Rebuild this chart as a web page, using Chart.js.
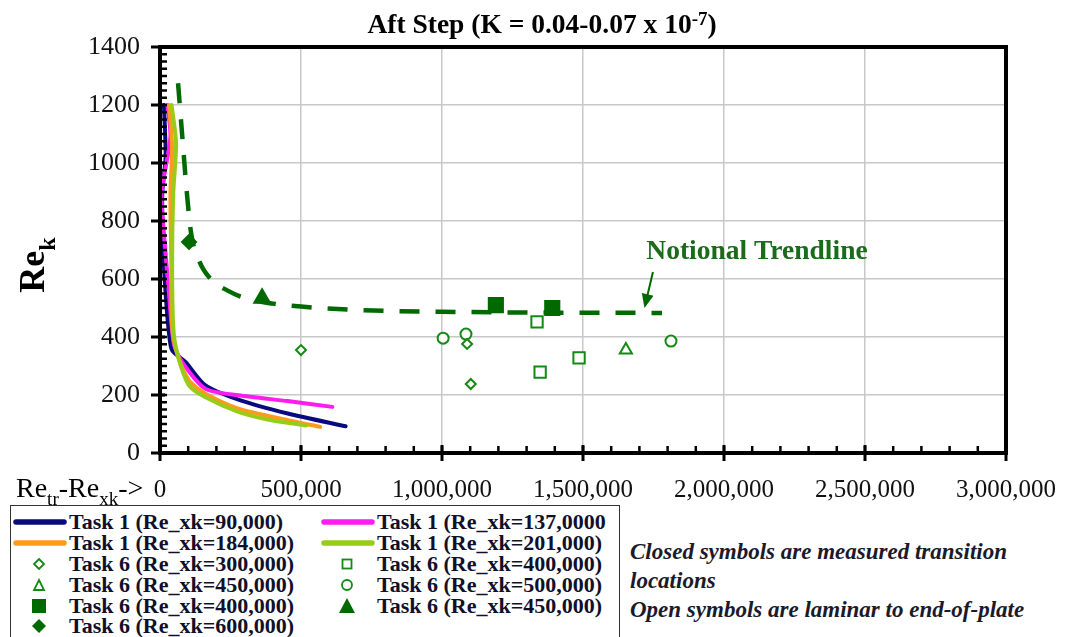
<!DOCTYPE html>
<html>
<head>
<meta charset="utf-8">
<script src="https://cdn.jsdelivr.net/npm/chart.js@4.4.1/dist/chart.umd.min.js"></script>
<style>
  body { margin: 0; background: #fff; font-family: "Liberation Serif", "DejaVu Serif", "Liberation Sans", serif; }
  #wrap { position: absolute; left: 0; top: 0; width: 1068px; height: 505px; }
  #legend {
    position: absolute; left: 10px; top: 505px; width: 610px; height: 140px;
    border: 1.5px solid #333; box-sizing: border-box; padding-top: 6px;
    display: grid; grid-template-columns: 308px 300px; grid-auto-rows: 20.8px;
  }
  .item { display: flex; align-items: center; font-weight: bold; font-size: 22px; color: #10102a; white-space: nowrap; }
  .item svg { width: 56px; height: 20px; flex: none; margin-right: 2px; }
  #note {
    position: absolute; left: 630px; top: 537px; font-size: 23px; line-height: 29px;
    font-weight: bold; font-style: italic; color: #1a1a2a;
  }
</style>
</head>
<body>
<div id="wrap"><canvas id="myChart"></canvas></div>
<div id="legend"></div>
<div id="note">Closed symbols are measured transition<br>locations<br>Open symbols are laminar to end-of-plate</div>
<script>
// Task 1 curves, [Re_tr-Re_xk, Re_k]
const task1Re90k = [[14000,1200],[20000,1022],[8000,895],[11000,711],[20000,550],[32000,412],[43000,354],[90000,314],[160000,234],[278000,184],[453000,136],[658000,92]];
const task1Re137k = [[26000,1200],[37000,1091],[6000,895],[14000,757],[32000,550],[49000,377],[78000,314],[160000,222],[278000,199],[453000,179],[611000,159]];
const task1Re184k = [[32000,1200],[43000,1056],[37000,895],[40000,665],[43000,435],[61000,343],[102000,251],[160000,205],[278000,153],[453000,113],[568000,90]];
const task1Re201k = [[41000,1200],[57000,1068],[47000,895],[43000,665],[47000,435],[61000,343],[102000,234],[160000,193],[278000,142],[395000,113],[518000,95]];

// Task 6 symbols
const open300k = [[500000,355],[1089000,376],[1102000,238]];
const open400k = [[1337000,452],[1348000,279],[1486000,328]];
const open450k = [[1652000,355]];
const open500k = [[1004000,396],[1085000,410],[1812000,386]];
const closed400k = [[1191000,510],[1391000,500]];
const closed450k = [[362000,534]];
const closed600k = [[103000,728]];

// notional trendline
const trendline = [[64000,1275],[80000,1080],[95000,900],[110000,760],[140000,660],[180000,600],[240000,560],[300000,535],[400000,515],[500000,505],[700000,493],[1000000,487],[1400000,484],[1780000,483]];

const xTicks = [0, 500000, 1000000, 1500000, 2000000, 2500000, 3000000];
const yTicks = [0, 200, 400, 600, 800, 1000, 1200, 1400];
const xMinorStep = 100000;
const yMinorStep = 25;

const trendLabel = { text: "Notional Trendline", x: 2117000, y: 693 };
const trendArrow = { from: [1748000, 624], to: [1718000, 500] };

const GREEN = "#138a13";
const DARK_GREEN = "#006a00";
const SERIF = '"Liberation Serif", "DejaVu Serif", "Liberation Sans", serif';

function pts(list) {
  return list.map(p => ({ x: p[0], y: p[1] }));
}

function lineSet(label, data, color, order) {
  return { type: "line", label, data: pts(data), borderColor: color, borderWidth: 4,
    pointRadius: 0, tension: 0.25, order, borderCapStyle: "round", borderJoinStyle: "round" };
}

function symbolSet(label, data, style, radius, filled) {
  return { label, data: pts(data), pointStyle: style, pointRadius: radius,
    pointBorderWidth: 2, borderColor: filled ? DARK_GREEN : GREEN,
    backgroundColor: filled ? DARK_GREEN : "#fff", order: 0 };
}

const datasets = [
  lineSet("Task 1 (Re_xk=90,000)", task1Re90k, "#0a0a80", 4),
  lineSet("Task 1 (Re_xk=137,0000", task1Re137k, "#ff1cf0", 3),
  lineSet("Task 1 (Re_xk=184,000)", task1Re184k, "#ff9a1c", 2),
  lineSet("Task 1 (Re_xk=201,000)", task1Re201k, "#98cc1a", 1),
  symbolSet("Task 6 (Re_xk=300,000)", open300k, "rectRot", 5, false),
  symbolSet("Task 6 (Re_xk=400,000)", open400k, "rect", 8, false),
  symbolSet("Task 6 (Re_xk=450,000)", open450k, "triangle", 7, false),
  symbolSet("Task 6 (Re_xk=500,000)", open500k, "circle", 5.5, false),
  symbolSet("Task 6 (Re_xk=400,000)", closed400k, "rect", 10, true),
  symbolSet("Task 6 (Re_xk=450,000)", closed450k, "triangle", 9, true),
  symbolSet("Task 6 (Re_xk=600,000)", closed600k, "rectRot", 7, true),
  { type: "line", label: "Notional Trendline", data: pts(trendline), borderColor: DARK_GREEN,
    borderWidth: 4.5, borderDash: [20, 16], pointRadius: 0, cubicInterpolationMode: "monotone", order: 5 },
];

// writes text with sub/superscript parts: [[text, shift], ...]; shift 0 normal, 1 sub, -1 sup
function richText(ctx, parts, x, y, size, weight, align) {
  const fontFor = s => `${weight} ${s === 0 ? size : Math.round(size * 0.68)}px ${SERIF}`;
  let total = 0;
  for (const [t, s] of parts) { ctx.font = fontFor(s); total += ctx.measureText(t).width; }
  let cx = align === "center" ? x - total / 2 : x;
  ctx.textBaseline = "alphabetic";
  ctx.textAlign = "left";
  for (const [t, s] of parts) {
    ctx.font = fontFor(s);
    ctx.fillText(t, cx, y + s * size * 0.3);
    cx += ctx.measureText(t).width;
  }
}

const framePlugin = {
  id: "frame",
  afterDraw(chart) {
    const ctx = chart.ctx;
    const a = chart.chartArea;
    const xs = chart.scales.x, ys = chart.scales.y;
    ctx.save();
    ctx.strokeStyle = "#000";
    // box round plot
    ctx.lineWidth = 4;
    ctx.strokeRect(a.left, a.top, a.right - a.left, a.bottom - a.top);
    // minor ticks (inside)
    ctx.lineWidth = 2.5;
    ctx.beginPath();
    for (let v = xMinorStep; v < 3000000; v += xMinorStep) {
      const px = xs.getPixelForValue(v);
      ctx.moveTo(px, a.bottom); ctx.lineTo(px, a.bottom - 7);
    }
    for (let v = yMinorStep; v < 1400; v += yMinorStep) {
      const py = ys.getPixelForValue(v);
      ctx.moveTo(a.left, py); ctx.lineTo(a.left + 7, py);
    }
    ctx.stroke();
    // major ticks (cross)
    ctx.lineWidth = 3;
    ctx.beginPath();
    for (const v of xTicks) {
      const px = xs.getPixelForValue(v);
      ctx.moveTo(px, a.bottom - 8); ctx.lineTo(px, a.bottom + 8);
    }
    for (const v of yTicks) {
      const py = ys.getPixelForValue(v);
      ctx.moveTo(a.left - 9, py); ctx.lineTo(a.left + 5, py);
    }
    ctx.stroke();

    // notional trendline label + arrow
    ctx.fillStyle = "#1b6b1b";
    ctx.font = `bold 27.5px ${SERIF}`;
    ctx.textAlign = "center";
    ctx.textBaseline = "middle";
    ctx.fillText(trendLabel.text, xs.getPixelForValue(trendLabel.x), ys.getPixelForValue(trendLabel.y));
    const x1 = xs.getPixelForValue(trendArrow.from[0]), y1 = ys.getPixelForValue(trendArrow.from[1]);
    const x2 = xs.getPixelForValue(trendArrow.to[0]), y2 = ys.getPixelForValue(trendArrow.to[1]);
    const ang = Math.atan2(y2 - y1, x2 - x1);
    ctx.strokeStyle = DARK_GREEN;
    ctx.lineWidth = 2;
    ctx.beginPath();
    ctx.moveTo(x1, y1);
    ctx.lineTo(x2 - 10 * Math.cos(ang), y2 - 10 * Math.sin(ang));
    ctx.stroke();
    ctx.fillStyle = DARK_GREEN;
    ctx.beginPath();
    ctx.moveTo(x2, y2);
    ctx.lineTo(x2 - 14 * Math.cos(ang) + 6 * Math.sin(ang), y2 - 14 * Math.sin(ang) - 6 * Math.cos(ang));
    ctx.lineTo(x2 - 14 * Math.cos(ang) - 6 * Math.sin(ang), y2 - 14 * Math.sin(ang) + 6 * Math.cos(ang));
    ctx.closePath();
    ctx.fill();

    // title
    ctx.fillStyle = "#000";
    richText(ctx, [["Aft Step (K = 0.04-0.07 x 10", 0], ["-7", -1], [")", 0]], 542, 33, 27.5, "bold", "center");
    // x axis title
    richText(ctx, [["Re", 0], ["tr", 1], ["-Re", 0], ["xk", 1], ["->", 0]], 16, 497, 28, "normal", "left");
    // y axis title
    ctx.translate(44, 265);
    ctx.rotate(-Math.PI / 2);
    richText(ctx, [["Re", 0], ["k", 1]], 0, 0, 36, "bold", "center");
    ctx.restore();
  }
};

const ctx = document.getElementById("myChart");
new Chart(ctx, {
  type: "scatter",
  data: { datasets },
  plugins: [framePlugin],
  options: {
    responsive: true,
    maintainAspectRatio: false,
    animation: false,
    layout: { padding: { top: 47, right: 62, left: 0, bottom: 0 } },
    plugins: { legend: { display: false }, tooltip: { enabled: false } },
    scales: {
      x: {
        type: "linear", min: 0, max: 3000000,
        afterFit: s => { s.height = 52; s.paddingLeft = 0; s.paddingRight = 0; },
        afterBuildTicks: s => { s.ticks = xTicks.map(v => ({ value: v })); },
        grid: { color: "#c8c8c8", lineWidth: 1.5, drawTicks: false },
        border: { display: false },
        ticks: { padding: 22, color: "#111", font: { family: SERIF, size: 25 },
          maxRotation: 0, callback: v => v.toLocaleString("en-US") },
      },
      y: {
        type: "linear", min: 0, max: 1400,
        afterFit: s => { s.width = 160; s.paddingTop = 0; s.paddingBottom = 0; },
        afterBuildTicks: s => { s.ticks = yTicks.map(v => ({ value: v })); },
        grid: { color: "#c8c8c8", lineWidth: 1.5, drawTicks: false },
        border: { display: false },
        ticks: { padding: 20, color: "#111", font: { family: SERIF, size: 26 }, callback: v => String(v) },
      },
    },
  },
});

// html legend
const legendItems = [
  ["line", "#0a0a80", "Task 1 (Re_xk=90,000)"],
  ["line", "#ff1cf0", "Task 1 (Re_xk=137,0000"],
  ["line", "#ff9a1c", "Task 1 (Re_xk=184,000)"],
  ["line", "#98cc1a", "Task 1 (Re_xk=201,000)"],
  ["diamond", false, "Task 6 (Re_xk=300,000)"],
  ["square", false, "Task 6 (Re_xk=400,000)"],
  ["triangle", false, "Task 6 (Re_xk=450,000)"],
  ["circle", false, "Task 6 (Re_xk=500,000)"],
  ["square", true, "Task 6 (Re_xk=400,000)"],
  ["triangle", true, "Task 6 (Re_xk=450,000)"],
  ["diamond", true, "Task 6 (Re_xk=600,000)"],
];

function swatch(kind, opt) {
  if (kind === "line")
    return `<svg viewBox="0 0 56 20"><line x1="5" y1="10" x2="53" y2="10" stroke="${opt}" stroke-width="5.5" stroke-linecap="round"/></svg>`;
  const fill = opt ? DARK_GREEN : "#fff";
  const sw = opt ? 0 : 1.8;
  const st = `fill="${fill}" stroke="${GREEN}" stroke-width="${sw}"`;
  const shapes = {
    diamond: opt ? `<polygon points="28,3 35,10 28,17 21,10" ${st}/>` : `<polygon points="28,5 33,10 28,15 23,10" ${st}/>`,
    square: opt ? `<rect x="21" y="3" width="14" height="14" ${st}/>` : `<rect x="23.5" y="5.5" width="9" height="9" ${st}/>`,
    triangle: opt ? `<polygon points="28,2 36,17 20,17" ${st}/>` : `<polygon points="28,5 33,15 23,15" ${st}/>`,
    circle: `<circle cx="28" cy="10" r="5" ${st}/>`,
  };
  return `<svg viewBox="0 0 56 20">${shapes[kind]}</svg>`;
}

document.getElementById("legend").innerHTML = legendItems
  .map(([kind, opt, text]) => `<div class="item">${swatch(kind, opt)}<span>${text}</span></div>`)
  .join("");
</script>
</body>
</html>
